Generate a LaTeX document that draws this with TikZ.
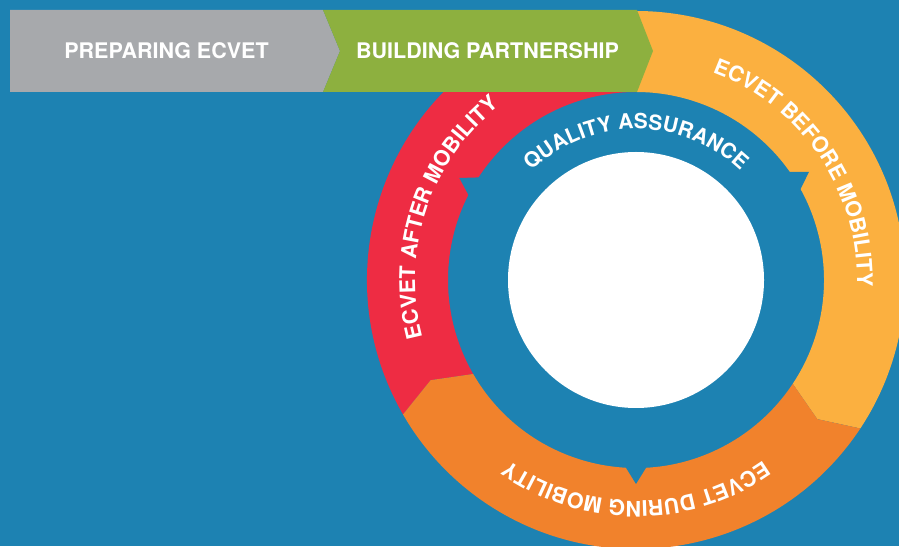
\documentclass[tikz,border=0pt]{standalone}
\usepackage{fontspec}
\setsansfont{TeX Gyre Heros}
\usetikzlibrary{decorations.text,positioning}

\definecolor{bgblue}{HTML}{1D82B2}
\definecolor{stepgrey}{HTML}{A7A9AC}
\definecolor{stepgreen}{HTML}{8DB03F}
\definecolor{ringyellow}{HTML}{FBB040}
\definecolor{ringorange}{HTML}{F1822C}
\definecolor{ringred}{HTML}{EE2C43}
\newcommand{\ringfont}{\sffamily\bfseries\fontsize{21.5}{24}\selectfont}
\newcommand{\qafont}{\sffamily\bfseries\fontsize{21}{24}\selectfont}
% one coloured piece of the ring: colour, start angle, end angle (clockwise)
\newcommand{\ringpart}[3]{%
  \fill[#1] (#2:269) arc[start angle=#2, end angle=#3, radius=269]
    -- ({#3-4}:228.5) -- (#3:188) arc[start angle=#3, end angle=#2, radius=188]
    -- ({#2-4}:228.5) -- cycle;}

\begin{document}
\begin{tikzpicture}[x=1pt,y=1pt,
    steplabel/.style={text=white, font=\sffamily\bfseries\fontsize{21.5}{24}\selectfont},
    ringtext/.style={decorate, decoration={text along path, text align=center, text color=white}}]
  \clip (0,0) rectangle (899,546);
  \fill[bgblue] (0,0) rectangle (899,546);
  \begin{scope}[shift={(636,266)}]
    \ringpart{ringred}{210}{90}
    \ringpart{ringyellow}{90}{-33.5}
    \ringpart{ringorange}{-33.5}{-150}
    \fill[white] (0,0) circle[radius=128];
    \foreach \a in {150,32,-90}
      \fill[bgblue] ({\a+3.5}:186) -- (\a:204) -- ({\a-3.5}:186) -- cycle;
    \path[ringtext, decoration={text={|\qafont|QUALITY ASSURANCE}}]
      (165:151) arc[start angle=165, end angle=15, radius=151];
    \path[ringtext, decoration={text={|\ringfont|ECVET BEFORE MOBILITY}}]
      (80:221) arc[start angle=80, end angle=-12, radius=221];
    \path[ringtext, decoration={text={|\ringfont|ECVET DURING MOBILITY}}]
      (-45:221) arc[start angle=-45, end angle=-135, radius=221];
    \path[ringtext, decoration={text={|\ringfont|ECVET AFTER MOBILITY}}]
      (205:221) arc[start angle=205, end angle=118, radius=221];
  \end{scope}
  \fill[stepgrey] (10,536) -- (323,536) -- (340,495) -- (323,454) -- (10,454) -- cycle;
  \fill[stepgreen] (323,536) -- (637,536) -- (653,495) -- (637,454) -- (323,454) -- (340,495) -- cycle;
  \node[steplabel] (prep) at (166.5,495) {PREPARING ECVET};
  \node[steplabel] (build) at (487.5,495) {BUILDING PARTNERSHIP};
\end{tikzpicture}
\end{document}
